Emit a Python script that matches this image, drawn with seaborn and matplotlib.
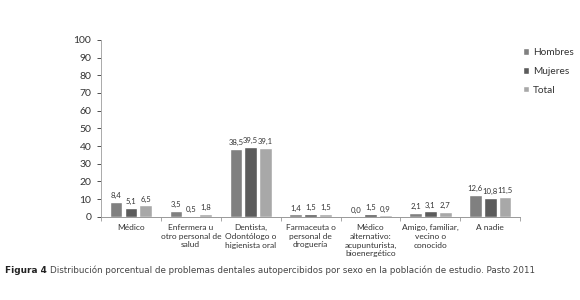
import matplotlib
matplotlib.use("Agg")
import matplotlib.pyplot as plt
import seaborn as sns
import pandas as pd

categories = ["Médico", "Enfermera u\notro personal de\nsalud", "Dentista,\nOdontólogo o\nhigienista oral",
              "Farmaceuta o\npersonal de\ndroguería", "Médico\nalternativo:\nacupunturista,\nbioenergético",
              "Amigo, familiar,\nvecino o\nconocido", "A nadie"]
series = ["Hombres", "Mujeres", "Total"]
hombres = [8.4, 3.5, 38.5, 1.4, 0.0, 2.1, 12.6]
mujeres = [5.1, 0.5, 39.5, 1.5, 1.5, 3.1, 10.8]
total = [6.5, 1.8, 39.1, 1.5, 0.9, 2.7, 11.5]
yticks = list(range(0, 101, 10))
colors = ["#808080", "#5c5c5c", "#a8a8a8"]

rows = []
for s, vals in zip(series, [hombres, mujeres, total]):
    for c, v in zip(categories, vals):
        rows.append({"cat": c, "serie": s, "valor": v})
df = pd.DataFrame(rows)

sns.set_theme(style="white")
plt.rcParams["font.family"] = ["Lato", "DejaVu Sans"]

fig = plt.figure(figsize=(5.8, 3.0), dpi=100)
ax = fig.add_axes([0.174, 0.277, 0.723, 0.59])
sns.barplot(data=df, x="cat", y="valor", hue="serie", palette=colors, width=0.74, gap=0.14,
            ax=ax, legend=True, saturation=1)

for cont, vals in zip(ax.containers, [hombres, mujeres, total]):
    ax.bar_label(cont, labels=[f"{v:.1f}".replace(".", ",") for v in vals], padding=2,
                 fontsize=5.6, color="#333333")

ax.set_ylim(0, 100)
ax.set_yticks(yticks)
ax.set_xlim(-0.5, len(categories) - 0.5)
ax.set_xlabel("")
ax.set_ylabel("")
ax.tick_params(axis="y", labelsize=7.5, colors="#333333", length=3, width=0.6, left=True, pad=4)
ax.tick_params(axis="x", labelsize=6, colors="#333333", length=0, pad=5)
ax.set_xticks(range(len(categories)))
ax.set_xticklabels(categories, linespacing=1.3, va="top")
ax.set_xticks([i + 0.5 for i in range(-1, len(categories))], minor=True)
ax.tick_params(axis="x", which="minor", length=3, width=0.6, color="#999999", bottom=True)
for sp in ["top", "right"]:
    ax.spines[sp].set_visible(False)
ax.spines["left"].set_color("#aaaaaa")
ax.spines["bottom"].set_color("#999999")
ax.spines["left"].set_linewidth(0.7)
ax.spines["bottom"].set_linewidth(0.7)

leg = ax.legend(loc="upper left", bbox_to_anchor=(1.0, 0.97), frameon=False, fontsize=7.3,
                handlelength=0.6, handleheight=0.6, handletextpad=0.35, labelspacing=0.95,
                borderaxespad=0.2, borderpad=0.1)
for t in leg.get_texts():
    t.set_color("#333333")

t1 = fig.text(0.008, 0.09, "Figura 4", fontsize=6.4, fontweight="bold", color="#222222",
              family=["DejaVu Sans"])
fig.canvas.draw()
bb = t1.get_window_extent()
x2 = (bb.x1 + 3) / fig.bbox.width
fig.text(x2, 0.09, "Distribución porcentual de problemas dentales autopercibidos por sexo en la población de estudio. Pasto 2011",
         fontsize=6.3, color="#444444", family=["DejaVu Sans"])

fig.savefig("out.png", dpi=100, facecolor="white")
